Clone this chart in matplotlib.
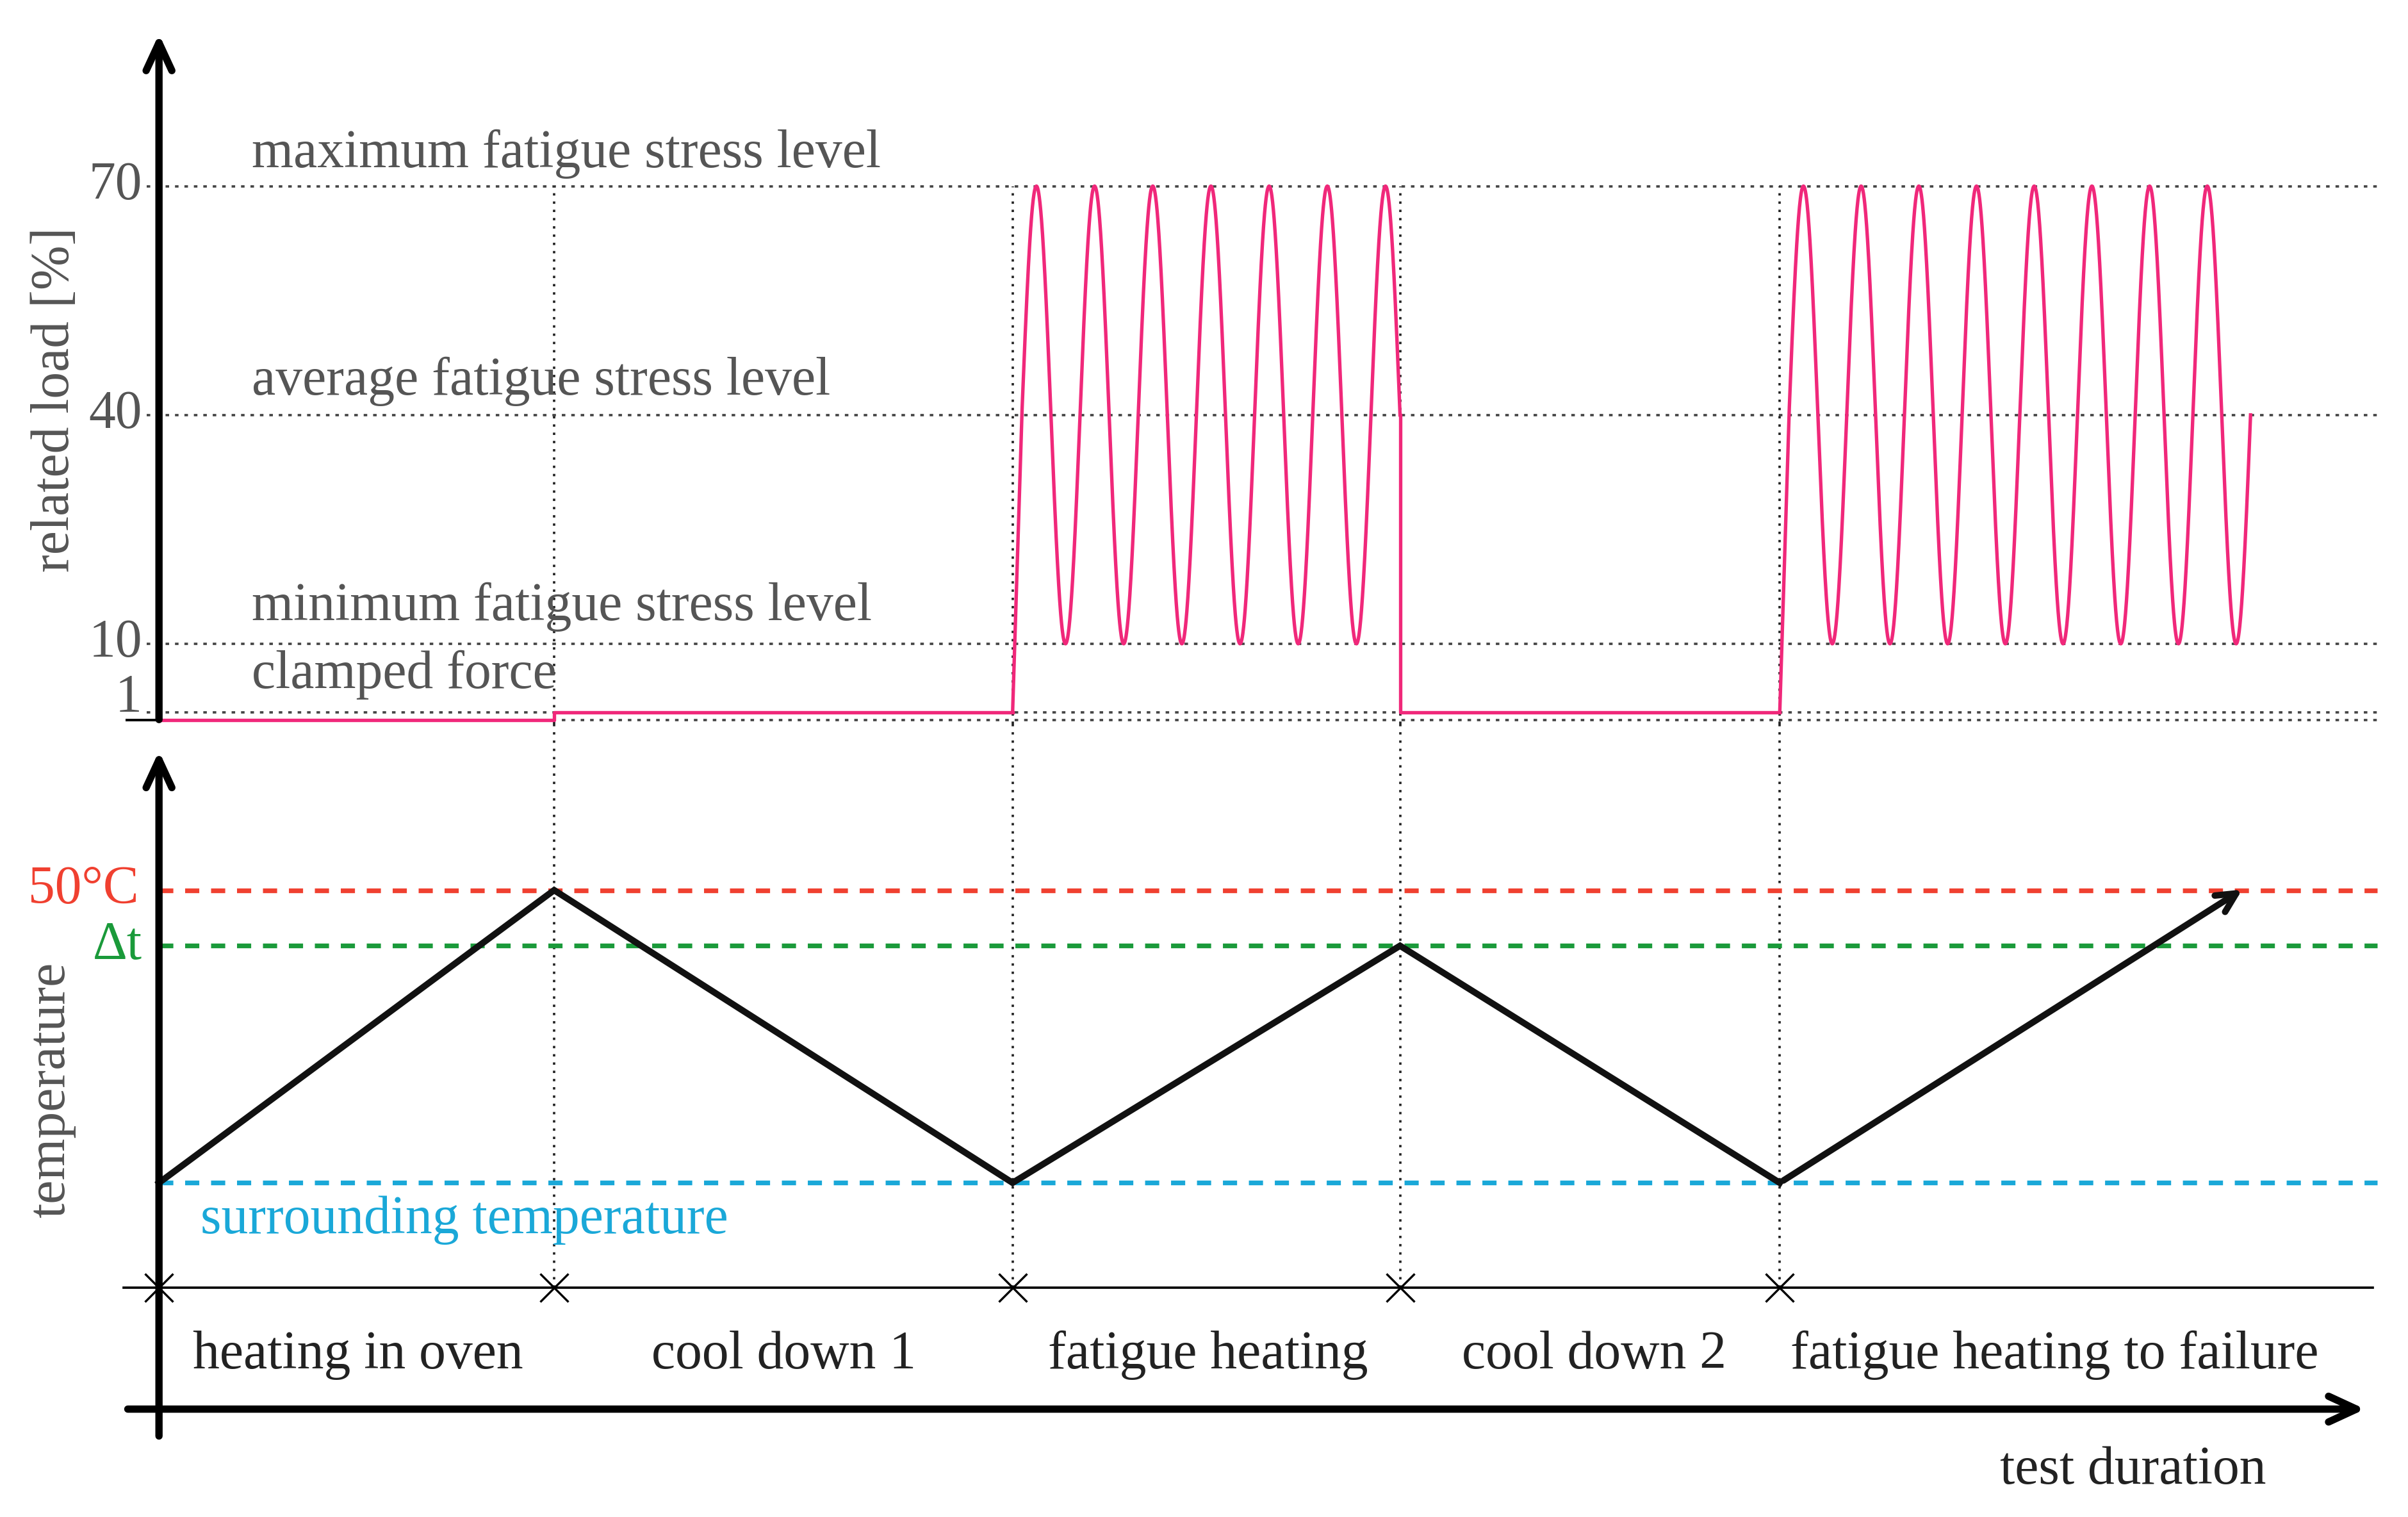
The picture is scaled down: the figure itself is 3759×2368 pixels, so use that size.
import numpy as np
import matplotlib
matplotlib.use("Agg")
import matplotlib.pyplot as plt

# ---- data (time in arbitrary units along the test) ----
phase_bounds = [103, 359, 656, 907, 1153]
test_end = 1458
phase_names = ["heating in oven", "cool down 1", "fatigue heating", "cool down 2", "fatigue heating to failure"]
phase_label_x = [125, 422, 679, 947, 1160]
load_levels = [70, 40, 10, 1]
load_level_names = ["maximum fatigue stress level", "average fatigue stress level",
                    "minimum fatigue stress level", "clamped force"]
load_min, load_max, load_mean = 10, 70, 40
clamp_load = 1
cycles1 = 6.5
cycles2 = 8.0
fat1_start, fat2_start = 662, 1159
temp_surround, temp_dt, temp_50 = 20, 44.3, 50
temp_times = [103, 359, 656, 907, 1153]
temp_values = [20, 50, 20, 44.3, 20]
temp_arrow_end = (1455, 50.3)

W, H = 1560, 985
fig = plt.figure(figsize=(3759/241, 2368/241), dpi=241)
plt.rcParams['font.family'] = ['Liberation Serif', 'DejaVu Serif']
grey = '#555555'
pink = '#f0287a'
fs = 25

axT = fig.add_axes([0, 1-470/H, 1, 470/H])
axT.set_xlim(0, W)
axT.set_ylim(-0.5, 94.4)
axT.axis('off')
axB = fig.add_axes([0, 0, 1, 515/H])
axB.set_xlim(0, W)
axB.set_ylim(-14.26, 67.05)
axB.axis('off')

arrow = 'Simple' 
ap = dict(arrowstyle='->,head_length=1.3,head_width=0.6', lw=3.4, color='k')

# grey dotted level lines
for lv in load_levels + [0]:
    axT.plot([95, 1540], [lv, lv], ls=(0, (1.5, 2.5)), color='#444444', lw=1.1)
for lv, name, y_off in zip(load_levels, load_level_names, [4.2, 4.4, 4.8, 4.9]):
    axT.text(163, lv + y_off, name, fontsize=fs, color=grey, va='center', ha='left')
for lv in load_levels:
    axT.text(92, lv + (1.8 if lv == 1 else 0), str(lv), fontsize=fs, color=grey, va='center', ha='right')
axT.plot([82, 103], [0, 0], color='k', lw=1.2)
axT.text(36, 42, "related load [%]", fontsize=fs, color=grey, rotation=90, va='center', ha='center')

# vertical dotted lines
for xb in phase_bounds[1:]:
    axT.plot([xb, xb], [-0.5, 70], ls=(0, (1, 2.5)), color='#222222', lw=1.1)
    axB.plot([xb, xb], [9.26, 67.05], ls=(0, (1, 2.5)), color='#222222', lw=1.1)

# load signal
axT.plot([phase_bounds[0], phase_bounds[1], phase_bounds[1], fat1_start - 6],
         [0, 0, clamp_load, clamp_load], color=pink, lw=1.6)
for st, en, cyc, pre in [(fat1_start, phase_bounds[3], cycles1, phase_bounds[2]),
                         (fat2_start, test_end, cycles2, phase_bounds[4])]:
    t = np.linspace(st, en, 1500)
    y = load_mean + (load_max - load_mean) * np.sin(2*np.pi*cyc*(t - st)/(en - st))
    t = np.concatenate([[pre, st], t])
    y = np.concatenate([[clamp_load, load_mean], y])
    axT.plot(t, y, color=pink, lw=1.6)
axT.plot([phase_bounds[3], phase_bounds[3], phase_bounds[4]], [load_mean, clamp_load, clamp_load], color=pink, lw=1.6)

axT.annotate('', xy=(103, 90.5), xytext=(103, -0.5), arrowprops=ap)

# temperature lines
for val, col in [(temp_50, '#f04030'), (temp_dt, '#1a9a3a'), (temp_surround, '#1aa8d8')]:
    axB.plot([103, 1540], [val, val], ls=(0, (3, 2.5)), color=col, lw=2.2)
axB.text(90, temp_50, "50°C", fontsize=fs, color='#f04030', va='center', ha='right')
axB.text(92, temp_dt, "Δt", fontsize=fs, color='#1a9a3a', va='center', ha='right')
axB.text(130, temp_surround - 3.8, "surrounding temperature", fontsize=fs, color='#1aa8d8', va='center', ha='left')
axB.text(33, 29.5, "temperature", fontsize=fs, color=grey, rotation=90, va='center', ha='center')

axB.plot(temp_times, temp_values, color='#111111', lw=3.0, solid_joinstyle='miter')
axB.annotate('', xy=temp_arrow_end, xytext=(temp_times[-1], temp_values[-1]),
             arrowprops=dict(arrowstyle='->,head_length=0.9,head_width=0.45', lw=3.0, color='#111111'))

axB.annotate('', xy=(103, 64.7), xytext=(103, -6.4), arrowprops=ap)
axB.annotate('', xy=(1535, -3.2), xytext=(80, -3.2), arrowprops=ap)

# phase line with crosses
axB.plot([80, 1537], [9.26, 9.26], color='k', lw=1.1)
axB.plot(phase_bounds, [9.26]*len(phase_bounds), ls='none', marker='x', ms=13, mew=1.0, color='k')
for x, name in zip(phase_label_x, phase_names):
    axB.text(x, 2.3, name, fontsize=fs, color='#222222', va='center', ha='left')
axB.text(1468, -9.5, "test duration", fontsize=fs, color='#222222', va='center', ha='right')

fig.savefig('out.png', dpi=241)
